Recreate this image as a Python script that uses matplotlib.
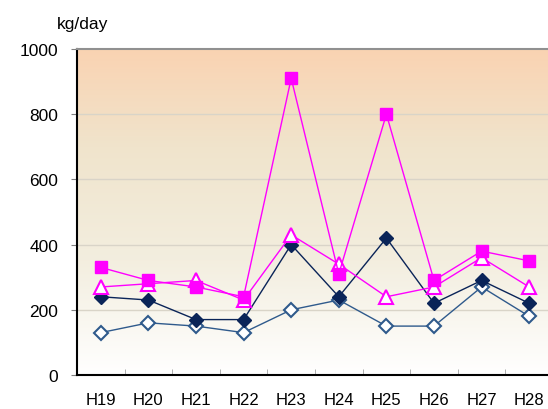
import matplotlib
matplotlib.use("Agg")
import matplotlib.pyplot as plt
import numpy as np
from matplotlib.colors import LinearSegmentedColormap

plt.rcParams['font.family'] = ['Liberation Sans', 'DejaVu Sans']

categories = ["H19", "H20", "H21", "H22", "H23", "H24", "H25", "H26", "H27", "H28"]
sq_vals = [330, 290, 270, 240, 910, 310, 800, 290, 380, 350]
tri_vals = [270, 280, 290, 230, 430, 340, 240, 270, 360, 270]
dia_vals = [240, 230, 170, 170, 400, 240, 420, 220, 290, 220]
odia_vals = [130, 160, 150, 130, 200, 230, 150, 150, 270, 180]
yticks = [0, 200, 400, 600, 800, 1000]

W, H = 548, 410
fig = plt.figure(figsize=(W / 100, H / 100), dpi=100)
left, top, bottom = 77, 50, 376
width = 476
ax = fig.add_axes([left / W, 1 - bottom / H, width / W, (bottom - top) / H])

x = np.arange(len(categories))
ax.set_xlim(-0.5, len(categories) - 0.5)
ax.set_ylim(0, 1000)

# gradient background
cmap = LinearSegmentedColormap.from_list(
    "bg", [(0.0, "#FFFFFF"), (0.35, "#F3EEDF"), (0.7, "#F0E4CC"), (1.0, "#FAD3B2")])
grad = np.linspace(0, 1, 256).reshape(-1, 1)
ax.imshow(grad, extent=[-0.5, len(categories) - 0.5, 0, 1000], origin="lower",
          aspect="auto", cmap=cmap, zorder=0)

for yv in yticks[1:-1]:
    ax.axhline(yv, color="#D9D4C8", lw=1, zorder=1)

navy = "#0A2458"
blue = "#2F5A8C"
mag = "#FF00FF"

ax.plot(x, odia_vals, color=blue, lw=1, marker="D", ms=7, mfc="white",
        mec=blue, mew=1.5, zorder=3)
ax.plot(x, dia_vals, color=navy, lw=1, marker="D", ms=7, mfc=navy,
        mec=navy, zorder=4)
ax.plot(x, tri_vals, color=mag, lw=1, marker="^", ms=10, mfc="white",
        mec=mag, mew=1.5, zorder=5)
ax.plot(x, sq_vals, color=mag, lw=1, marker="s", ms=8, mfc=mag,
        mec=mag, zorder=6)

ax.set_yticks(yticks)
ax.set_yticklabels([str(v) for v in yticks], fontsize=12.5)
ax.set_xticks(x)
ax.set_xticklabels(categories, fontsize=12)
ax.set_xticks(np.arange(len(categories) + 1) - 0.5, minor=True)
ax.tick_params(axis="x", which="major", length=0, pad=12)
ax.tick_params(axis="x", which="minor", direction="in", length=4, color="#A0A0A0")
ax.tick_params(axis="y", direction="out", length=4.5, color="#808080", pad=9)

for s in ["left", "bottom"]:
    ax.spines[s].set_color("black")
    ax.spines[s].set_linewidth(1.5)
ax.spines["top"].set_color("#909090")
ax.spines["top"].set_linewidth(1.5)
ax.spines["right"].set_visible(False)

fig.text(83 / W, 1 - 24 / H, "kg/day", fontsize=12.5, ha="center", va="center")

fig.savefig("out.png", dpi=100)
